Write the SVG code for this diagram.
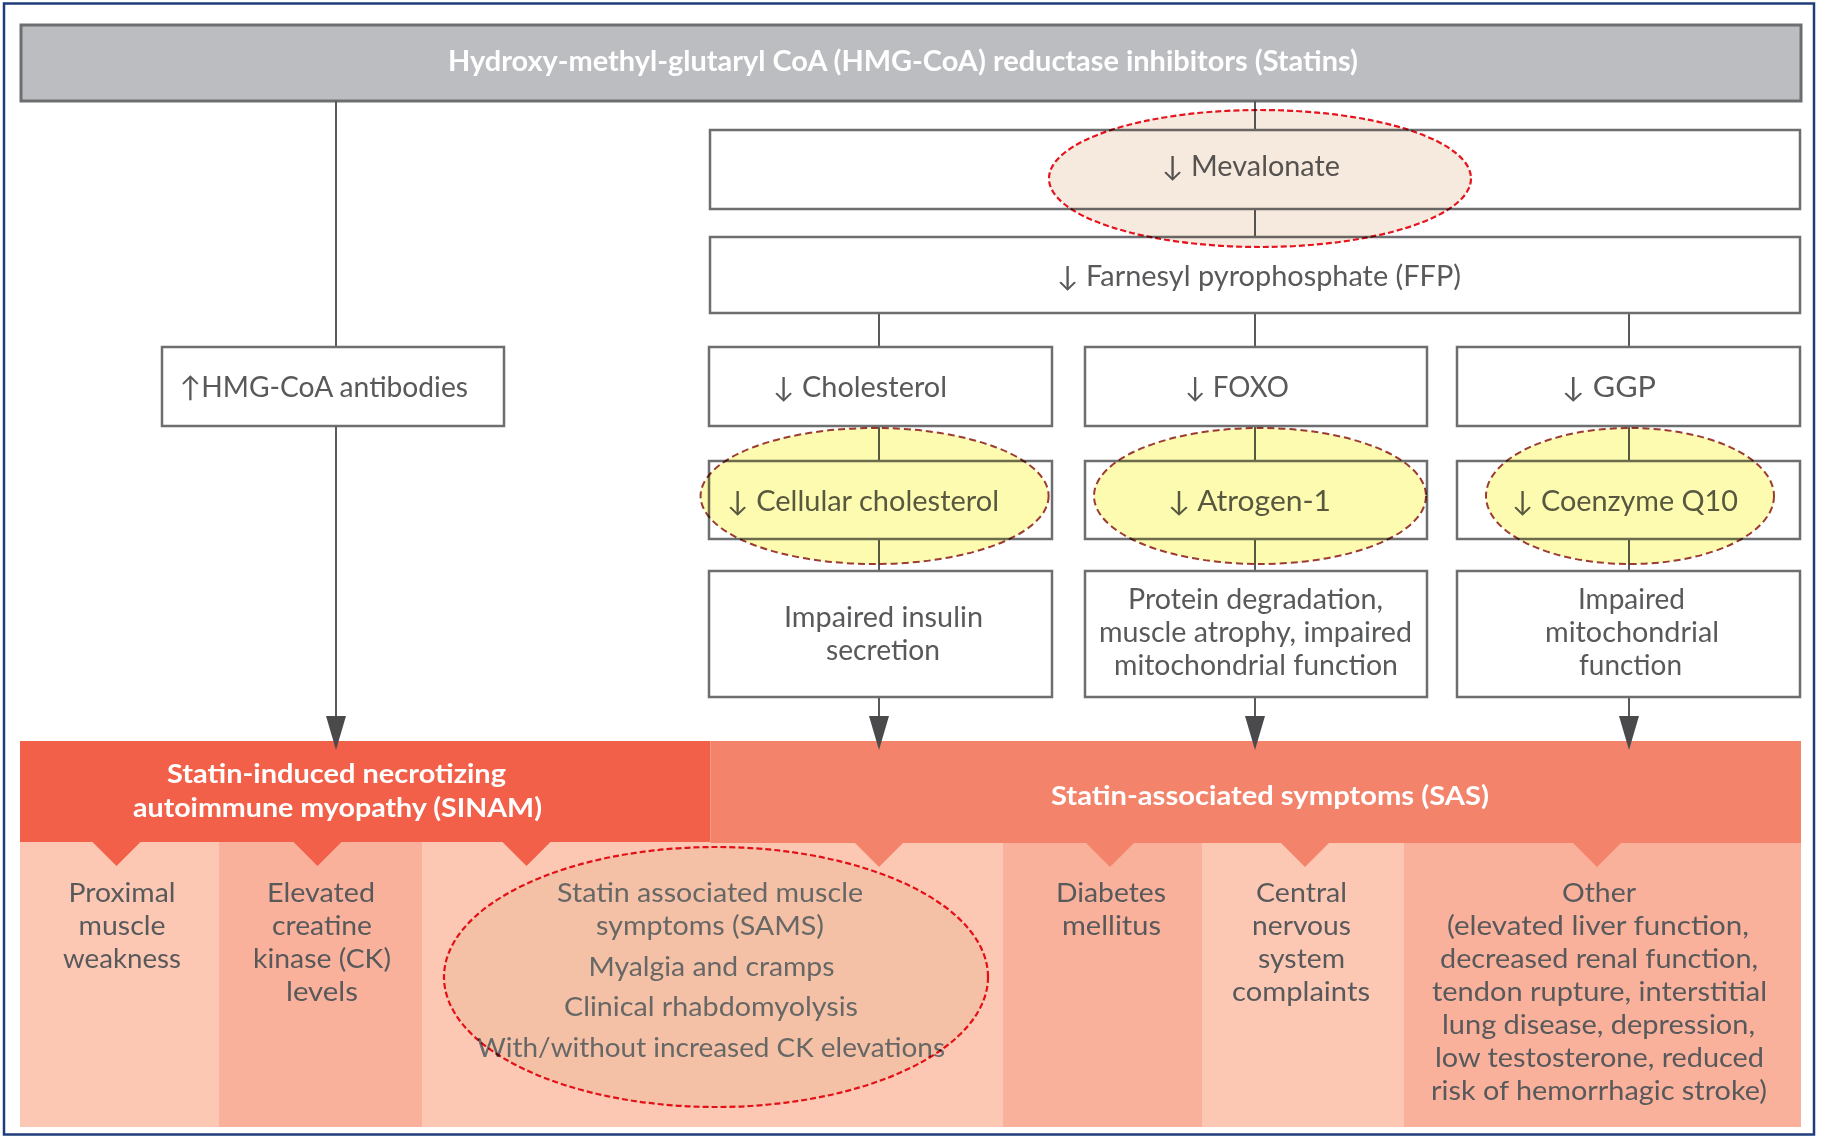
<svg xmlns="http://www.w3.org/2000/svg" width="1825" height="1138" viewBox="0 0 1825 1138">
<style>
  text { font-family: Lato, "Liberation Sans", "DejaVu Sans", sans-serif; }
  .box { fill: #ffffff; stroke: #6d6e70; stroke-width: 2.5; }
  .bt { fill: #58595b; font-size: 28px; text-anchor: middle; }
  .ct { fill: #58595b; font-size: 26.5px; text-anchor: middle; }
  .st { fill: #6a6b6d; font-size: 26.5px; text-anchor: middle; }
  .wt { fill: #ffffff; font-size: 26px; font-weight: bold; text-anchor: middle; }
  .ln { stroke: #58595b; stroke-width: 2; fill: none; }
  .light { fill: #fcc8b4; }
  .med { fill: #f9b19c; }
  .sinam { fill: #f26049; }
  .sas { fill: #f4836b; }
  .yel { fill: #fdfbb0; stroke: #9c3b32; stroke-width: 2; stroke-dasharray: 7 4; mix-blend-mode: multiply; }
  .bei { fill: #f6eadf; stroke: #e6141e; stroke-width: 2.2; stroke-dasharray: 6 3; mix-blend-mode: multiply; }
</style>
<defs>
  <marker id="ah" markerUnits="userSpaceOnUse" viewBox="0 0 34 20" markerWidth="34" markerHeight="20" refX="19" refY="10" orient="auto">
    <path d="M0,0 L34,10 L0,20 Z" fill="#4a4a4c"/>
  </marker>
</defs>

<rect x="4" y="3.5" width="1810" height="1131" fill="#ffffff" stroke="#1f3d7a" stroke-width="2.5"/>

<g id="header">
  <rect x="21" y="25" width="1780" height="76" fill="#bcbdc0" stroke="#6d6e70" stroke-width="3"/>
  <text x="903" y="71" fill="#ffffff" font-size="29" font-weight="bold" text-anchor="middle" textLength="910" lengthAdjust="spacingAndGlyphs">Hydroxy-methyl-glutaryl CoA (HMG-CoA) reductase inhibitors (Statins)</text>
</g>

<g id="outcomes">
  <rect class="light" x="20" y="842" width="199" height="285"/>
  <rect class="med" x="219" y="842" width="203" height="285"/>
  <rect class="light" x="422" y="842" width="581" height="285"/>
  <rect class="med" x="1003" y="842" width="199" height="285"/>
  <rect class="light" x="1202" y="842" width="202" height="285"/>
  <rect class="med" x="1404" y="842" width="397" height="285"/>
  <g id="sinam">
    <rect class="sinam" x="20" y="741" width="690.5" height="101"/>
    <path class="sinam" d="M91.5,841 L141.5,841 L116.5,866 Z"/>
    <path class="sinam" d="M292.5,841 L342.5,841 L317.5,866 Z"/>
    <path class="sinam" d="M501.5,841 L551.5,841 L526.5,866 Z"/>
    <text class="wt" x="336.5" y="783" textLength="339" lengthAdjust="spacingAndGlyphs">Statin-induced necrotizing</text>
    <text class="wt" x="337.5" y="817" textLength="409" lengthAdjust="spacingAndGlyphs">autoimmune myopathy (SINAM)</text>
  </g>
  <g id="sas">
    <rect class="sas" x="710.5" y="741" width="1090.5" height="102"/>
    <path class="sas" d="M854,842 L904,842 L879,867 Z"/>
    <path class="sas" d="M1085,842 L1135,842 L1110,867 Z"/>
    <path class="sas" d="M1280,842 L1330,842 L1305,867 Z"/>
    <path class="sas" d="M1572,842 L1622,842 L1597,867 Z"/>
    <text class="wt" x="1270" y="805" textLength="438" lengthAdjust="spacingAndGlyphs">Statin-associated symptoms (SAS)</text>
  </g>
  <g id="col-proximal">
    <text class="ct" x="122" y="902" textLength="107" lengthAdjust="spacingAndGlyphs">Proximal</text>
    <text class="ct" x="122" y="935" textLength="87" lengthAdjust="spacingAndGlyphs">muscle</text>
    <text class="ct" x="122" y="968" textLength="118" lengthAdjust="spacingAndGlyphs">weakness</text>
  </g>
  <g id="col-ck">
    <text class="ct" x="321" y="902" textLength="108" lengthAdjust="spacingAndGlyphs">Elevated</text>
    <text class="ct" x="322" y="935" textLength="100" lengthAdjust="spacingAndGlyphs">creatine</text>
    <text class="ct" x="322" y="968" textLength="138" lengthAdjust="spacingAndGlyphs">kinase (CK)</text>
    <text class="ct" x="322" y="1001" textLength="72" lengthAdjust="spacingAndGlyphs">levels</text>
  </g>
  <g id="col-sams">
    <text class="st" x="710" y="902" textLength="306" lengthAdjust="spacingAndGlyphs">Statin associated muscle</text>
    <text class="st" x="710" y="935" textLength="228" lengthAdjust="spacingAndGlyphs">symptoms (SAMS)</text>
    <text class="st" x="711.5" y="976" textLength="246" lengthAdjust="spacingAndGlyphs">Myalgia and cramps</text>
    <text class="st" x="711" y="1016" textLength="294" lengthAdjust="spacingAndGlyphs">Clinical rhabdomyolysis</text>
    <text class="st" x="711" y="1057" textLength="468" lengthAdjust="spacingAndGlyphs">With/without increased CK elevations</text>
  </g>
  <g id="col-diabetes">
    <text class="ct" x="1111" y="902" textLength="110" lengthAdjust="spacingAndGlyphs">Diabetes</text>
    <text class="ct" x="1111.5" y="935" textLength="99" lengthAdjust="spacingAndGlyphs">mellitus</text>
  </g>
  <g id="col-cns">
    <text class="ct" x="1301.5" y="902" textLength="91" lengthAdjust="spacingAndGlyphs">Central</text>
    <text class="ct" x="1301.5" y="935" textLength="99" lengthAdjust="spacingAndGlyphs">nervous</text>
    <text class="ct" x="1301.5" y="968" textLength="87" lengthAdjust="spacingAndGlyphs">system</text>
    <text class="ct" x="1301" y="1001" textLength="138" lengthAdjust="spacingAndGlyphs">complaints</text>
  </g>
  <g id="col-other">
    <text class="ct" x="1599" y="902" textLength="74" lengthAdjust="spacingAndGlyphs">Other</text>
    <text class="ct" x="1598" y="935" textLength="302" lengthAdjust="spacingAndGlyphs">(elevated liver function,</text>
    <text class="ct" x="1599" y="968" textLength="318" lengthAdjust="spacingAndGlyphs">decreased renal function,</text>
    <text class="ct" x="1599.5" y="1001" textLength="335" lengthAdjust="spacingAndGlyphs">tendon rupture, interstitial</text>
    <text class="ct" x="1598.5" y="1034" textLength="313" lengthAdjust="spacingAndGlyphs">lung disease, depression,</text>
    <text class="ct" x="1599.5" y="1067" textLength="329" lengthAdjust="spacingAndGlyphs">low testosterone, reduced</text>
    <text class="ct" x="1599" y="1100" textLength="336" lengthAdjust="spacingAndGlyphs">risk of hemorrhagic stroke)</text>
  </g>
</g>

<g id="connectors">
  <line class="ln" x1="336" y1="101" x2="336" y2="347"/>
  <line class="ln" x1="336" y1="426" x2="336" y2="735" marker-end="url(#ah)"/>
  <line class="ln" x1="1255" y1="101" x2="1255" y2="130"/>
  <line class="ln" x1="1255" y1="209" x2="1255" y2="237"/>
  <line class="ln" x1="879" y1="313" x2="879" y2="347"/>
  <line class="ln" x1="1255" y1="313" x2="1255" y2="347"/>
  <line class="ln" x1="1629" y1="313" x2="1629" y2="347"/>
  <line class="ln" x1="879" y1="426" x2="879" y2="461"/>
  <line class="ln" x1="1255" y1="426" x2="1255" y2="461"/>
  <line class="ln" x1="1629" y1="426" x2="1629" y2="461"/>
  <line class="ln" x1="879" y1="539" x2="879" y2="571"/>
  <line class="ln" x1="1255" y1="539" x2="1255" y2="571"/>
  <line class="ln" x1="1629" y1="539" x2="1629" y2="571"/>
  <line class="ln" x1="879" y1="697" x2="879" y2="735" marker-end="url(#ah)"/>
  <line class="ln" x1="1255" y1="697" x2="1255" y2="735" marker-end="url(#ah)"/>
  <line class="ln" x1="1629" y1="697" x2="1629" y2="735" marker-end="url(#ah)"/>
</g>

<g id="mevalonate">
  <rect class="box" x="710" y="130" width="1090" height="79"/>
  <text class="bt" x="1251" y="176" textLength="178" lengthAdjust="spacingAndGlyphs">↓ Mevalonate</text>
</g>
<g id="ffp">
  <rect class="box" x="710" y="237" width="1090" height="76"/>
  <text class="bt" x="1259" y="286" textLength="404" lengthAdjust="spacingAndGlyphs">↓ Farnesyl pyrophosphate (FFP)</text>
</g>
<g id="hmg-antibodies">
  <rect class="box" x="162" y="347" width="342" height="79"/>
  <text class="bt" x="324" y="397" textLength="288" lengthAdjust="spacingAndGlyphs">↑HMG-CoA antibodies</text>
</g>
<g id="cholesterol">
  <rect class="box" x="709" y="347" width="343" height="79"/>
  <text class="bt" x="860" y="397" textLength="174" lengthAdjust="spacingAndGlyphs">↓ Cholesterol</text>
</g>
<g id="foxo">
  <rect class="box" x="1085" y="347" width="342" height="79"/>
  <text class="bt" x="1237" y="397" textLength="104" lengthAdjust="spacingAndGlyphs">↓ FOXO</text>
</g>
<g id="ggp">
  <rect class="box" x="1457" y="347" width="343" height="79"/>
  <text class="bt" x="1609" y="397" textLength="94" lengthAdjust="spacingAndGlyphs">↓ GGP</text>
</g>
<g id="cellular-cholesterol">
  <rect class="box" x="709" y="461" width="343" height="78"/>
  <text class="bt" x="863" y="511" textLength="272" lengthAdjust="spacingAndGlyphs">↓ Cellular cholesterol</text>
</g>
<g id="atrogen">
  <rect class="box" x="1085" y="461" width="342" height="78"/>
  <text class="bt" x="1249.5" y="511" textLength="163" lengthAdjust="spacingAndGlyphs">↓ Atrogen-1</text>
</g>
<g id="coq10">
  <rect class="box" x="1457" y="461" width="343" height="78"/>
  <text class="bt" x="1625" y="511" textLength="226" lengthAdjust="spacingAndGlyphs">↓ Coenzyme Q10</text>
</g>
<g id="insulin">
  <rect class="box" x="709" y="571" width="343" height="126"/>
  <text class="bt" x="883.5" y="627" textLength="199" lengthAdjust="spacingAndGlyphs">Impaired insulin</text>
  <text class="bt" x="883" y="660" textLength="114" lengthAdjust="spacingAndGlyphs">secretion</text>
</g>
<g id="protein">
  <rect class="box" x="1085" y="571" width="342" height="126"/>
  <text class="bt" x="1255.5" y="609" textLength="255" lengthAdjust="spacingAndGlyphs">Protein degradation,</text>
  <text class="bt" x="1255.5" y="642" textLength="313" lengthAdjust="spacingAndGlyphs">muscle atrophy, impaired</text>
  <text class="bt" x="1256" y="675" textLength="284" lengthAdjust="spacingAndGlyphs">mitochondrial function</text>
</g>
<g id="mito">
  <rect class="box" x="1457" y="571" width="343" height="126"/>
  <text class="bt" x="1631.5" y="609" textLength="107" lengthAdjust="spacingAndGlyphs">Impaired</text>
  <text class="bt" x="1632" y="642" textLength="174" lengthAdjust="spacingAndGlyphs">mitochondrial</text>
  <text class="bt" x="1630.5" y="675" textLength="103" lengthAdjust="spacingAndGlyphs">function</text>
</g>

<g id="highlights">
  <ellipse class="bei" cx="1260" cy="178.5" rx="211" ry="68.5"/>
  <ellipse class="yel" cx="874.6" cy="496" rx="174" ry="68"/>
  <ellipse class="yel" cx="1260" cy="496" rx="166" ry="68"/>
  <ellipse class="yel" cx="1630" cy="496" rx="144" ry="68"/>
  <ellipse cx="716" cy="977" rx="272" ry="130" fill="#f7f6ed" stroke="#e6141e" stroke-width="2.2" stroke-dasharray="6 3" style="mix-blend-mode: multiply"/>
</g>
</svg>
